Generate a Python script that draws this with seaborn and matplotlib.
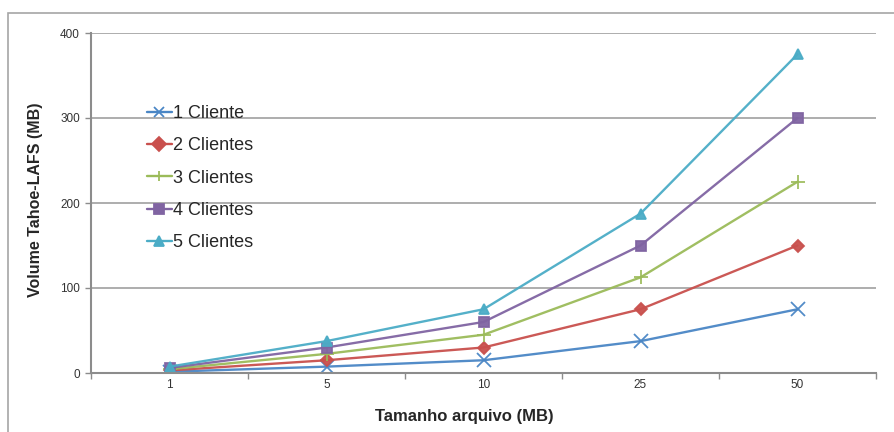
import pandas as pd
import seaborn as sns
import matplotlib.pyplot as plt
from matplotlib.patches import Rectangle

# dados
tamanhos = ['1', '5', '10', '25', '50']
cliente_1 = [1.5, 7.5, 15, 37.5, 75]
clientes_2 = [3, 15, 30, 75, 150]
clientes_3 = [4.5, 22.5, 45, 112.5, 225]
clientes_4 = [6, 30, 60, 150, 300]
clientes_5 = [7.5, 37.5, 75, 187.5, 375]
series = ['1 Cliente', '2 Clientes', '3 Clientes', '4 Clientes', '5 Clientes']

cores = ['#4A86C5', '#C9504D', '#9BBB59', '#8064A2', '#4BACC6']
marcadores = ['x', 'D', '+', 's', '^']

# monta dataframe longo
valores = [cliente_1, clientes_2, clientes_3, clientes_4, clientes_5]
df = pd.DataFrame({
    'tamanho': tamanhos * len(series),
    'volume': [v for serie in valores for v in serie],
    'serie': [s for s in series for _ in tamanhos],
})

sns.set_style('white')
plt.rcParams['font.family'] = ['Liberation Sans', 'DejaVu Sans']

fig = plt.figure(figsize=(8.94, 4.32), dpi=100)
ax = fig.add_axes([91 / 894, 1 - 373 / 432, 785 / 894, 340 / 432])

# moldura externa do gráfico (estilo Excel)
fig.patches.append(Rectangle((8 / 894, -0.1), 1.2, 1 - 13 / 432 + 0.1,
                             transform=fig.transFigure, fill=False,
                             edgecolor='#A6A6A6', linewidth=1.2))

sns.pointplot(data=df, x='tamanho', y='volume', hue='serie', order=tamanhos,
              hue_order=series, palette=cores, markers=marcadores,
              linestyles='-', errorbar=None, markersize=7, linewidth=1.7,
              ax=ax)

for linha, m in zip(ax.lines, marcadores):
    if m in ('x', '+'):
        linha.set_markersize(10)
        linha.set_markeredgewidth(1.3)
    elif m == 'D':
        linha.set_markersize(6)
    linha.set_alpha(0.95)

ax.set_xlim(-0.5, 4.5)
ax.set_ylim(0, 400)
ax.set_yticks([0, 100, 200, 300, 400])
ax.grid(axis='y', color='#A0A0A0', linewidth=1.2)
ax.set_axisbelow(True)

for lado in ['top', 'right']:
    ax.spines[lado].set_visible(False)
for lado in ['left', 'bottom']:
    ax.spines[lado].set_color('#8C8C8C')
    ax.spines[lado].set_linewidth(1.5)

# marcas entre categorias no eixo x
ax.set_xticks([-0.5, 0.5, 1.5, 2.5, 3.5, 4.5], minor=True)
ax.tick_params(axis='x', which='minor', length=4, color='#8C8C8C', width=1)
ax.tick_params(axis='x', which='major', length=0, labelsize=8.5,
               labelcolor='#333333', pad=4)
ax.tick_params(axis='y', length=4, color='#8C8C8C', width=1, labelsize=8.5,
               labelcolor='#333333', pad=4)
ax.tick_params(left=True, bottom=True, which='both')

ax.set_xlabel('Tamanho arquivo (MB)', fontsize=12, fontweight='bold')
ax.xaxis.set_label_coords(0.476, -0.105)
ax.set_ylabel('Volume Tahoe-LAFS (MB)', fontsize=11.5, fontweight='bold')
ax.yaxis.set_label_coords(-0.061, 0.51)

ax.legend(loc='upper left', bbox_to_anchor=(0.06, 0.815), frameon=False,
          fontsize=13, labelspacing=0.85, handlelength=1.35,
          handletextpad=0.1, borderpad=0)

fig.savefig('out.png', dpi=100)
